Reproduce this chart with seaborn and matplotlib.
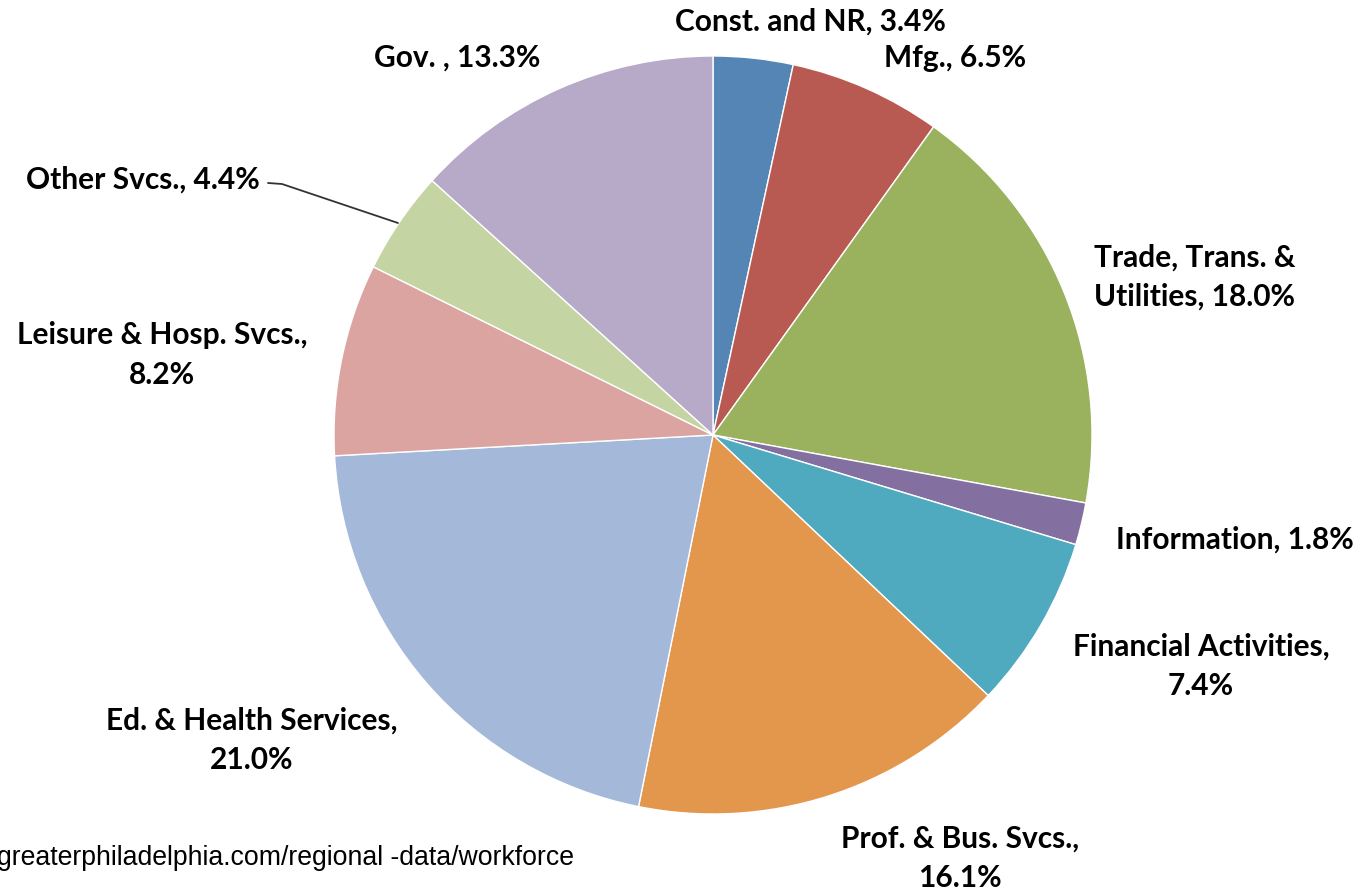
import numpy as np
import pandas as pd
import seaborn as sns
import matplotlib.pyplot as plt

# Datos
sectors = ['Const. and NR', 'Mfg.', 'Trade, Trans. &\nUtilities', 'Information',
           'Financial Activities,\n', 'Prof. & Bus. Svcs.,\n', 'Ed. & Health Services,\n',
           'Leisure & Hosp. Svcs.,\n', 'Other Svcs.', 'Gov. ']
shares = [3.4, 6.5, 18.0, 1.8, 7.4, 16.1, 21.0, 8.2, 4.4, 13.3]
colors = ['#5585b5', '#b95a52', '#9ab25e', '#8470a0', '#4fa9bf',
          '#e3974d', '#a4b8d9', '#dba4a1', '#c4d5a3', '#b7a9c8']
source = 'greaterphiladelphia.com/regional -data/workforce'

df = pd.DataFrame({'sector': sectors, 'share': shares})

sns.set_style('white')
plt.rcParams['font.family'] = ['Lato', 'DejaVu Sans']

W, H = 1363, 893
fig = plt.figure(figsize=(W / 100, H / 100), dpi=100)
ax = fig.add_axes([0, 0, 1, 1])

cx, cy, r = 713, H - 435, 379
ax.pie(df['share'], colors=colors, startangle=90, counterclock=False,
       center=(cx, cy), radius=r, frame=True,
       wedgeprops=dict(edgecolor='white', linewidth=1))
ax.set_xlim(0, W)
ax.set_ylim(0, H)
ax.set_aspect('equal')
ax.axis('off')

# etiquetas (posición en píxeles)
pos = [(810, 22), (955, 58), (1195, 277), (1235, 540), (1201, 666),
       (960, 858), (252, 740), (162, 355), (143, 180), (457, 58)]
for (s, v), (x, y) in zip(zip(df['sector'], df['share']), pos):
    if s.endswith('\n'):
        txt = f'{s}{v:.1f}%'
    else:
        txt = f'{s}, {v:.1f}%'
    ax.text(x, H - y, txt, ha='center', va='center', fontsize=21.5,
            fontweight='bold', color='black', linespacing=1.5)

# línea guía de Other Svcs.
ax.plot([268, 282, 398], [H - 183, H - 184, H - 223], color='#333333', lw=1.3)

ax.text(-3, H - 858, source, ha='left', va='center', fontsize=19.2,
        family='Liberation Sans', color='black')

fig.savefig('out.png', dpi=100)
